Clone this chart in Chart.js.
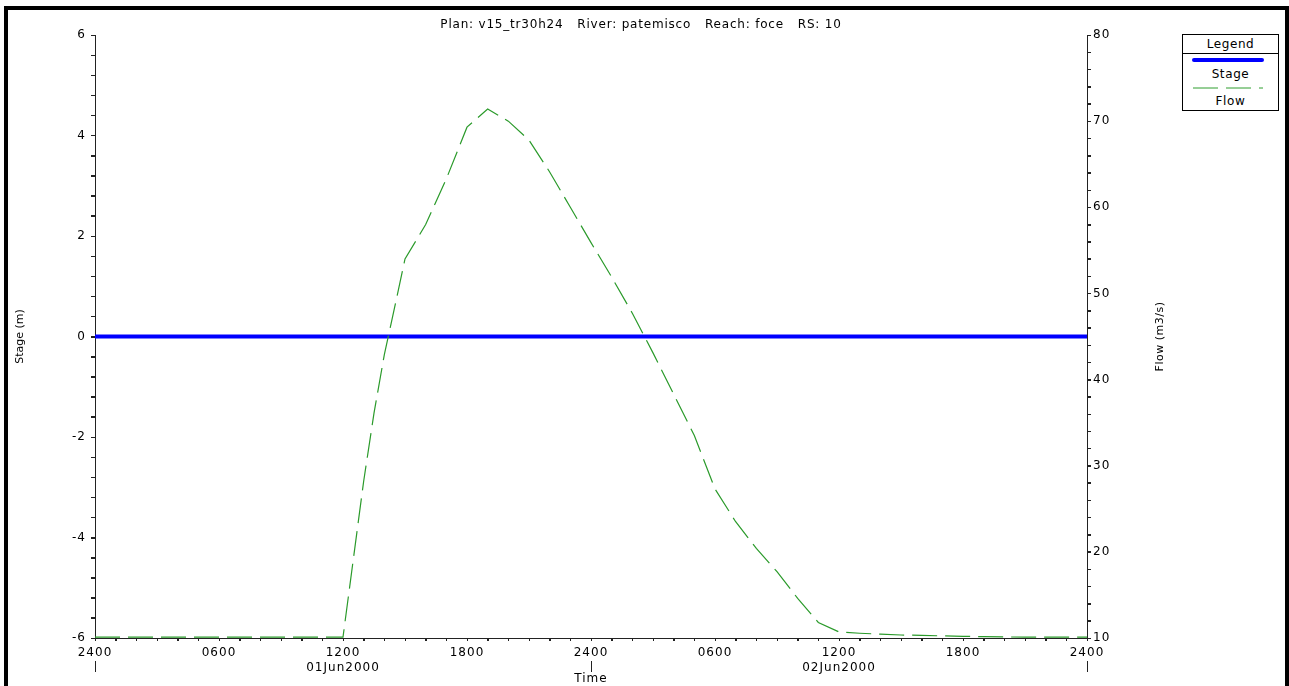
<!DOCTYPE html>
<html>
<head>
<meta charset="utf-8">
<script src="https://cdn.jsdelivr.net/npm/chart.js@4.4.1/dist/chart.umd.min.js"></script>
<style>
  body { margin: 0; background: #fff; font-family: "DejaVu Sans", sans-serif; }
  #frame { position: absolute; left: 4px; top: 6px; width: 1285px; height: 700px; box-sizing: border-box;
           border-top: 4px solid #000; border-left: 4px solid #000; border-right: 4px solid #000; }
  #wrap { position: absolute; left: 0; top: 0; width: 1289px; height: 686px; }
  #legend { position: absolute; left: 1182px; top: 34px; width: 97px; height: 77px; box-sizing: border-box;
            border: 1px solid #000; background: #fff; font-size: 12px; color: #000; letter-spacing: 0.6px; }
  #legend .hd { position: absolute; left: 0; top: 0; width: 95px; height: 18px; border-bottom: 1px solid #000;
                text-align: center; line-height: 18px; }
  #legend .tx { position: absolute; left: 0; width: 95px; text-align: center; line-height: 14px; }
  #legend svg { position: absolute; left: 0; top: 0; }
</style>
</head>
<body>
<div id="frame"></div>
<div id="wrap"><canvas id="chart-area" width="1289" height="686"></canvas></div>
<div id="legend">
  <div class="hd">Legend</div>
  <svg width="95" height="75">
    <line x1="11" y1="25" x2="79" y2="25" stroke="#0000ff" stroke-width="4" stroke-linecap="round"/>
    <line x1="10" y1="53" x2="80" y2="53" stroke="#2e9e2e" stroke-width="1" stroke-dasharray="25,8"/>
  </svg>
  <div class="tx" style="top:32px">Stage</div>
  <div class="tx" style="top:59px">Flow</div>
</div>
<script>
// hours from 2400 31May2000
var hours = [0, 1, 2, 3, 4, 5, 6, 7, 8, 9, 10, 11, 12, 13, 13.5, 14, 14.5, 15, 16, 17, 18, 19, 20,
             21, 22, 23, 24, 25, 26, 27, 28, 29, 30, 31, 32, 33, 34, 35, 36, 37, 38, 39, 40,
             41, 42, 43, 44, 45, 46, 47, 48];
var stage = [0, 0, 0, 0, 0, 0, 0, 0, 0, 0, 0, 0, 0, 0, 0, 0, 0, 0, 0, 0, 0, 0, 0,
             0, 0, 0, 0, 0, 0, 0, 0, 0, 0, 0, 0, 0, 0, 0, 0, 0, 0, 0, 0,
             0, 0, 0, 0, 0, 0, 0, 0];
var flow = [10.1, 10.1, 10.1, 10.1, 10.1, 10.1, 10.1, 10.1, 10.1, 10.1, 10.1, 10.1, 10.1, 28.2, 36.1, 42.9, 48.4, 54.0, 58.0, 63.3, 69.3, 71.4, 70.0,
            67.8, 64.1, 60.0, 55.9, 51.9, 47.7, 43.1, 38.3, 33.5, 27.3, 23.5, 20.4, 17.7, 14.6, 11.8, 10.7, 10.55, 10.45, 10.35, 10.3,
            10.25, 10.2, 10.15, 10.12, 10.1, 10.1, 10.1, 10.1];

var xTickHours = [0, 6, 12, 18, 24, 30, 36, 42, 48];
var xTickLabels = ['2400', '0600', '1200', '1800', '2400', '0600', '1200', '1800', '2400'];
var xDateLabels = ['', '', '01Jun2000', '', '', '', '02Jun2000', '', ''];
var dayBreaks = [0, 24, 48];

var titleText = 'Plan: v15_tr30h24   River: patemisco   Reach: foce   RS: 10';

var stagePts = [];
var flowPts = [];
for (var i = 0; i < hours.length; i++) {
  stagePts.push({x: hours[i], y: stage[i]});
  flowPts.push({x: hours[i], y: flow[i]});
}

var tickFont = {family: 'DejaVu Sans', size: 12, lineHeight: 1.2};
var axisCol = '#222';

// the original font is wider than DejaVu at the same height
function spacing(chart) { chart.ctx.letterSpacing = '1px'; }

function vText(ctx, txt, x, y) {
  ctx.save();
  ctx.translate(x, y);
  ctx.rotate(-Math.PI / 2);
  ctx.fillText(txt, 0, 0);
  ctx.restore();
}

// small unlabelled ticks: every hour, every 0.4 m, every 2 m3/s
function minorTicks(ctx, scale, from, to, step, dir) {
  var n = Math.round((to - from) / step);
  for (var k = 0; k <= n; k++) {
    var p = Math.round(scale.getPixelForValue(from + k * step)) + 0.5;
    ctx.beginPath();
    if (dir === 'down') {
      ctx.moveTo(p, scale.top);
      ctx.lineTo(p, scale.top + 3);
    } else if (dir === 'left') {
      ctx.moveTo(scale.right, p);
      ctx.lineTo(scale.right - 4, p);
    } else {
      ctx.moveTo(scale.left, p);
      ctx.lineTo(scale.left + 4, p);
    }
    ctx.stroke();
  }
}

var extras = {
  id: 'extras',
  beforeUpdate: spacing,
  beforeLayout: spacing,
  beforeDraw: spacing,
  afterDraw: function(chart) {
    var ctx = chart.ctx;
    var xs = chart.scales.x;
    var a = chart.chartArea;
    ctx.save();
    ctx.strokeStyle = axisCol;
    ctx.lineWidth = 1;
    minorTicks(ctx, xs, 0, 48, 1, 'down');
    minorTicks(ctx, chart.scales.y, -6, 6, 0.4, 'left');
    minorTicks(ctx, chart.scales.y1, 10, 80, 2, 'right');
    for (var i = 0; i < dayBreaks.length; i++) {
      var px = Math.round(xs.getPixelForValue(dayBreaks[i])) + 0.5;
      ctx.beginPath();
      ctx.moveTo(px, 661);
      ctx.lineTo(px, 672);
      ctx.stroke();
    }
    ctx.fillStyle = '#000';
    ctx.textAlign = 'center';
    ctx.textBaseline = 'middle';
    ctx.font = '12px "DejaVu Sans"';
    ctx.letterSpacing = '0.8px';
    ctx.fillText(titleText, 641, 25);
    ctx.font = '11px "DejaVu Sans"';
    ctx.letterSpacing = '0px';
    vText(ctx, 'Stage (m)', 20, (a.top + a.bottom) / 2);
    ctx.letterSpacing = '0.5px';
    vText(ctx, 'Flow (m3/s)', 1160, (a.top + a.bottom) / 2);
    ctx.restore();
  }
};

var config = {
  type: 'line',
  data: {
    datasets: [{
      label: 'Stage',
      data: stagePts,
      borderColor: '#0000ff',
      borderWidth: 4,
      pointRadius: 0,
      yAxisID: 'y',
      order: 1
    }, {
      label: 'Flow',
      data: flowPts,
      borderColor: '#2a9a2a',
      borderWidth: 1.2,
      borderDash: [25, 8],
      pointRadius: 0,
      yAxisID: 'y1',
      order: 0
    }]
  },
  options: {
    responsive: false,
    animation: false,
    layout: {padding: {left: 10, right: 119, top: 35, bottom: 0}},
    plugins: {
      legend: {display: false},
      tooltip: {enabled: false},
      title: {display: false}
    },
    scales: {
      x: {
        type: 'linear',
        min: 0,
        max: 48,
        afterFit: function(s) { s.height = 48; },
        border: {display: true, color: axisCol, width: 1},
        grid: {drawOnChartArea: false, color: axisCol, tickLength: 3},
        ticks: {
          stepSize: 1,
          maxTicksLimit: 100,
          autoSkip: false,
          maxRotation: 0,
          padding: 5,
          color: '#000',
          font: tickFont,
          callback: function(v) {
            var k = xTickHours.indexOf(Math.round(v));
            if (k < 0 || Math.abs(v - Math.round(v)) > 1e-6) return ' ';
            if (xDateLabels[k]) return [xTickLabels[k], xDateLabels[k]];
            return xTickLabels[k];
          }
        },
        title: {display: true, text: 'Time', color: '#000', font: tickFont, padding: 0}
      },
      y: {
        position: 'left',
        min: -6,
        max: 6,
        afterFit: function(s) { s.width = 85; },
        border: {display: true, color: axisCol, width: 1},
        grid: {drawOnChartArea: false, color: axisCol, tickLength: 4},
        ticks: {
          stepSize: 0.4,
          maxTicksLimit: 100,
          autoSkip: false,
          padding: 5,
          color: '#000',
          font: tickFont,
          callback: function(v) {
            var r = Math.round(v);
            if (Math.abs(v - r) < 1e-6 && r % 2 === 0) return String(r);
            return ' ';
          }
        }
      },
      y1: {
        position: 'right',
        min: 10,
        max: 80,
        afterFit: function(s) { s.width = 83; },
        border: {display: true, color: axisCol, width: 1},
        grid: {drawOnChartArea: false, color: axisCol, tickLength: 4},
        ticks: {
          stepSize: 2,
          maxTicksLimit: 100,
          autoSkip: false,
          padding: 2,
          color: '#000',
          font: tickFont,
          callback: function(v) {
            var r = Math.round(v);
            if (Math.abs(v - r) < 1e-6 && r % 10 === 0) return String(r);
            return ' ';
          }
        }
      }
    }
  },
  plugins: [extras]
};

var ctx = document.getElementById('chart-area').getContext('2d');
window.myChart = new Chart(ctx, config);
</script>
</body>
</html>
